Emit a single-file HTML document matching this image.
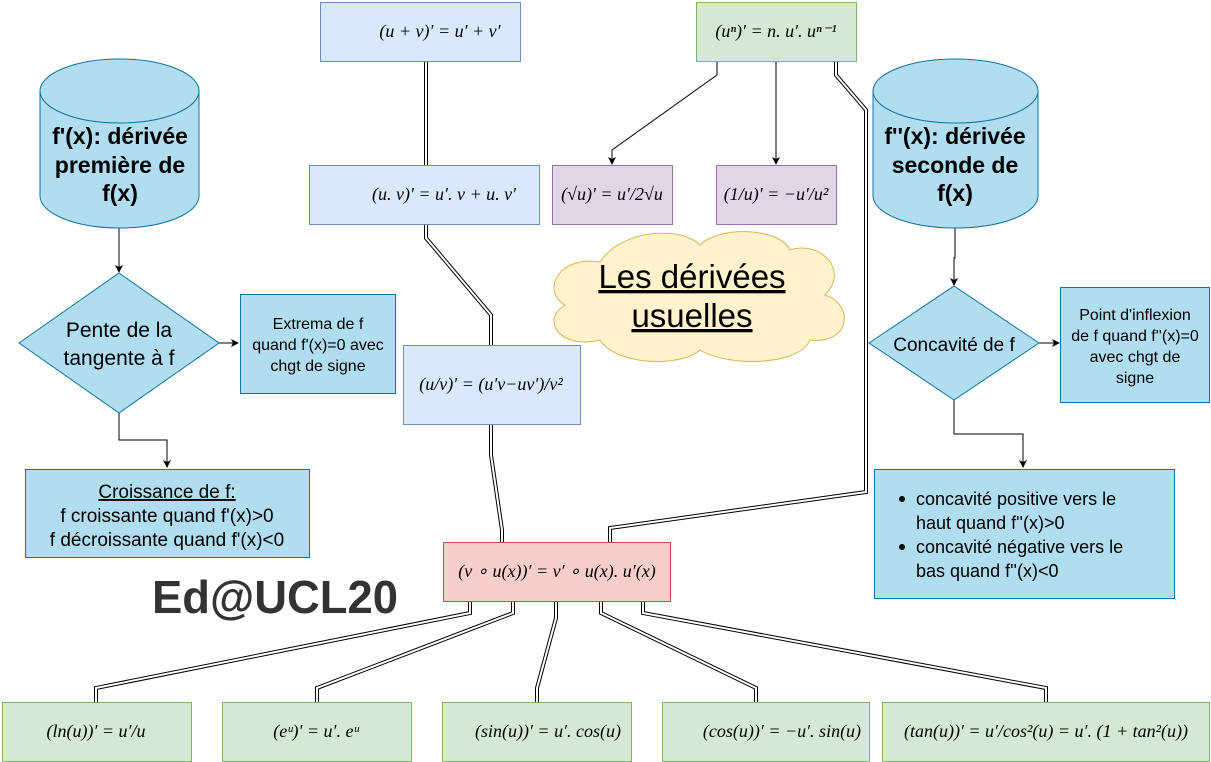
<!DOCTYPE html>
<html><head><meta charset="utf-8"><style>
html,body{margin:0;padding:0;background:#fff;}
svg{display:block;}
.s{font-family:"Liberation Sans",sans-serif;fill:#000;}
.m{font-family:"Liberation Serif",serif;font-style:italic;fill:#000;font-size:18px;}
</style></head><body>
<svg width="1211" height="762" viewBox="0 0 1211 762" xmlns="http://www.w3.org/2000/svg">
<defs><marker id="a" markerWidth="8" markerHeight="8" refX="7" refY="4" orient="auto" markerUnits="userSpaceOnUse"><path d="M0,0 L8,4 L0,8 L2,4 z" fill="#000"/></marker></defs>

<g fill="none" stroke-linejoin="miter">
<g stroke="#000" stroke-width="4">
<polyline points="426,61 426,165"/>
<polyline points="426,224 426,238 491,315 491,345"/>
<polyline points="491,424 491,455 502,530 502,542"/>
<polyline points="836,61 836,75 866,110 866,492 610,528 610,542"/>
<polyline points="470,601 470,613 96,688 96,702"/>
<polyline points="513,601 513,613 317,688 317,702"/>
<polyline points="556,601 556,618 537,688 537,702"/>
<polyline points="601,601 601,613 756,688 756,702"/>
<polyline points="643,601 643,613 1046,688 1046,702"/>
</g>
<g stroke="#fff" stroke-width="2">
<polyline points="426,61 426,165"/>
<polyline points="426,224 426,238 491,315 491,345"/>
<polyline points="491,424 491,455 502,530 502,542"/>
<polyline points="836,61 836,75 866,110 866,492 610,528 610,542"/>
<polyline points="470,601 470,613 96,688 96,702"/>
<polyline points="513,601 513,613 317,688 317,702"/>
<polyline points="556,601 556,618 537,688 537,702"/>
<polyline points="601,601 601,613 756,688 756,702"/>
<polyline points="643,601 643,613 1046,688 1046,702"/>
</g>
</g>

<g fill="none" stroke="#000" stroke-width="1" marker-end="url(#a)">
<polyline points="119,228 119,272"/>
<polyline points="119,413 119,440 167,440 167,467"/>
<polyline points="219,343 238,343"/>
<polyline points="955,228 955,258 954,258 954,285"/>
<polyline points="1039,343 1059,343"/>
<polyline points="954,400 954,434 1023,434 1023,467"/>
<polyline points="717,61 717,75 612,150 612,164"/>
<polyline points="776,61 776,164"/>
</g>

<rect x="320.5" y="2.5" width="200" height="59" fill="#dae8fc" stroke="#6c8ebf"/>
<text class="m" x="440" y="37" text-anchor="middle">(u + v)′ = u′ + v′</text>
<rect x="696.5" y="2.5" width="160" height="59" fill="#d5e8d4" stroke="#82b366"/>
<text class="m" x="776" y="37" text-anchor="middle">(uⁿ)′ = n. u′. uⁿ⁻¹</text>
<rect x="309.5" y="165.5" width="230" height="59" fill="#dae8fc" stroke="#6c8ebf"/>
<text class="m" x="444" y="200" text-anchor="middle">(u. v)′ = u′. v + u. v′</text>
<rect x="552.5" y="165.5" width="120" height="59" fill="#e1d5e7" stroke="#9673a6"/>
<text class="m" x="612" y="200" text-anchor="middle">(√u)′ = u′/2√u</text>
<rect x="716.5" y="165.5" width="120" height="59" fill="#e1d5e7" stroke="#9673a6"/>
<text class="m" x="776" y="200" text-anchor="middle">(1/u)′ = −u′/u²</text>
<rect x="403.5" y="345.5" width="177" height="79" fill="#dae8fc" stroke="#6c8ebf"/>
<text class="m" x="491" y="390" text-anchor="middle">(u/v)′ = (u′v−uv′)/v²</text>
<rect x="443.5" y="542.5" width="227" height="59" fill="#f8cecc" stroke="#b85450"/>
<text class="m" x="557" y="577" text-anchor="middle">(v ∘ u(x))′ = v′ ∘ u(x). u′(x)</text>

<g fill="#d5e8d4" stroke="#82b366">
<rect x="2.5" y="702.5" width="189" height="59"/>
<rect x="222.5" y="702.5" width="189" height="59"/>
<rect x="442.5" y="702.5" width="189" height="59"/>
<rect x="662.5" y="702.5" width="207" height="59"/>
<rect x="882.5" y="702.5" width="327" height="59"/>
</g>
<text class="m" x="96" y="737" text-anchor="middle">(ln(u))′ = u′/u</text>
<text class="m" x="316" y="737" text-anchor="middle">(eᵘ)′ = u′. eᵘ</text>
<text class="m" x="548" y="737" text-anchor="middle">(sin(u))′ = u′. cos(u)</text>
<text class="m" x="782" y="737" text-anchor="middle">(cos(u))′ = −u′. sin(u)</text>
<text class="m" x="1046" y="737" text-anchor="middle">(tan(u))′ = u′/cos²(u) = u′. (1 + tan²(u))</text>

<g fill="#b1ddf0" stroke="#10739e">
<path d="M40,91 L40,196 A79.5,32 0 0 0 199,196 L199,91 A79.5,32 0 0 0 40,91 Z"/>
<path d="M40,91 A79.5,32 0 0 0 199,91"/>
<path d="M873,91 L873,196 A82.5,32 0 0 0 1038,196 L1038,91 A82.5,32 0 0 0 873,91 Z"/>
<path d="M873,91 A82.5,32 0 0 0 1038,91"/>
</g>
<g class="s" font-weight="bold" font-size="23" text-anchor="middle">
<text x="120" y="144">f'(x): dérivée</text><text x="120" y="173">première de</text><text x="120" y="201">f(x)</text>
<text x="955" y="144">f''(x): dérivée</text><text x="955" y="173">seconde de</text><text x="955" y="201">f(x)</text>
</g>

<polygon points="119,273 219,343 119,413 19,343" fill="#b1ddf0" stroke="#10739e"/>
<text class="s" font-size="21" text-anchor="middle"><tspan x="119" y="337">Pente de la</tspan><tspan x="119" y="365">tangente à f</tspan></text>
<polygon points="954,286 1039,343 954,400 869,343" fill="#b1ddf0" stroke="#10739e"/>
<text class="s" font-size="19" text-anchor="middle" x="954" y="351">Concavité de f</text>

<g fill="#b1ddf0" stroke="#10739e">
<rect x="240.5" y="294.5" width="155" height="99"/>
<rect x="25.5" y="469.5" width="284" height="88"/>
<rect x="1060.5" y="287.5" width="149" height="115"/>
<rect x="874.5" y="469.5" width="300" height="129"/>
</g>
<g class="s" font-size="16" text-anchor="middle">
<text x="318" y="329">Extrema de f</text><text x="318" y="350">quand f'(x)=0 avec</text><text x="318" y="371">chgt de signe</text>
<text x="1135" y="320">Point d'inflexion</text><text x="1135" y="341">de f quand f''(x)=0</text><text x="1135" y="362">avec chgt de</text><text x="1135" y="383">signe</text>
</g>
<g class="s" font-size="19" text-anchor="middle">
<text x="167" y="498" text-decoration="underline">Croissance de f:</text>
<text x="167" y="522">f croissante quand f'(x)&gt;0</text>
<text x="167" y="546">f décroissante quand f'(x)&lt;0</text>
</g>
<g class="s" font-size="18">
<circle cx="902" cy="499" r="3" fill="#000"/><circle cx="902" cy="547" r="3" fill="#000"/>
<text x="916" y="505">concavité positive vers le</text><text x="916" y="529">haut quand f''(x)&gt;0</text>
<text x="916" y="553">concavité négative vers le</text><text x="916" y="577">bas quand f''(x)&lt;0</text>
</g>

<path d="M600,262 C560,255 540,290 565,305 C540,320 560,350 600,340 C615,365 680,368 700,350 C730,368 800,365 810,340 C850,345 855,305 825,295 C850,270 820,240 790,250 C780,228 720,225 700,245 C680,225 620,230 600,262 Z" fill="#fff2cc" stroke="#d6b656"/>
<g class="s" font-size="33" text-anchor="middle" text-decoration="underline">
<text x="692" y="288">Les dérivées</text><text x="692" y="327">usuelles</text>
</g>

<text class="s" x="152" y="613" font-size="46" font-weight="bold" style="fill:#333" textLength="246" lengthAdjust="spacingAndGlyphs">Ed@UCL20</text>
</svg>
</body></html>
